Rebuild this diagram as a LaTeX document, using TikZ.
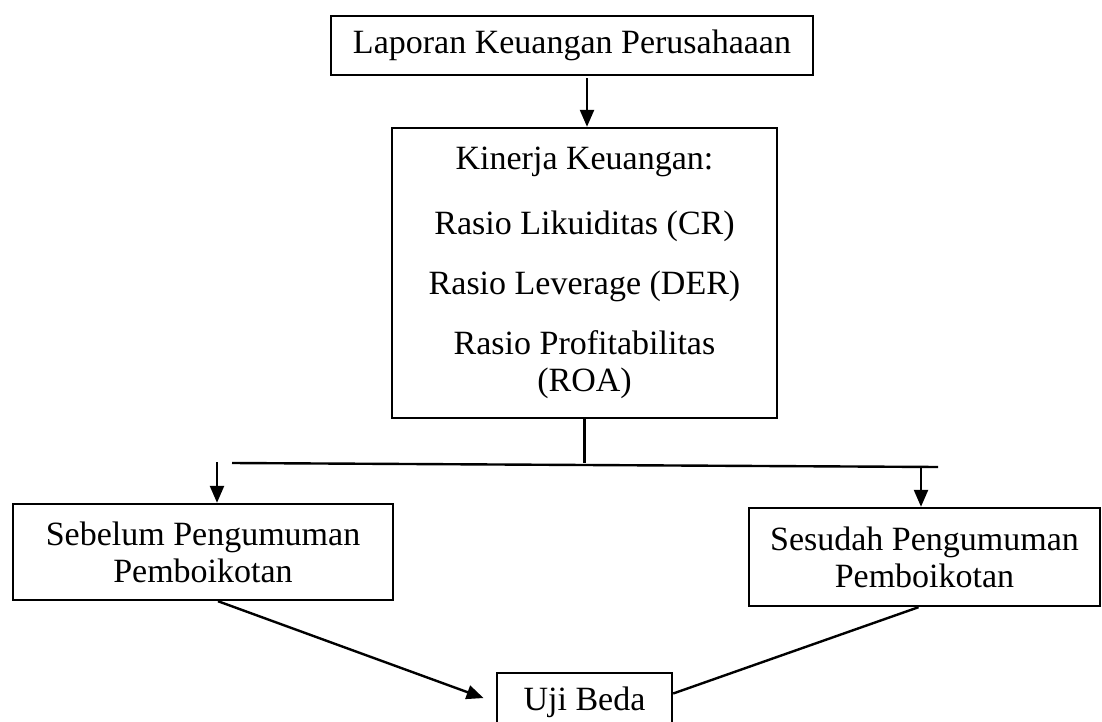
\documentclass[tikz,border=0pt]{standalone}
\usepackage{fontspec}
\setmainfont{Liberation Serif}
\usetikzlibrary{calc,arrows.meta}
\tikzset{
	kotak/.style={draw, line width=2.4pt, align=center, inner sep=0pt, font=\fontsize{34}{37}\selectfont},
	panah/.style={line width=2.4pt, -{Triangle[length=17pt,width=14pt]}},
	garis/.style={line width=2.4pt}
}

\begin{document}
\begin{tikzpicture}[x=1pt,y=-1pt]
			%%%%% START %%%%%
			\def\ybar{463}
			\useasboundingbox (0,0) rectangle (1102,722);
			
			\node[kotak, minimum width=482, minimum height=59] (lap) at (572,45.5) {Laporan Keuangan Perusahaaan};
			
			\node[kotak, minimum width=385, minimum height=290] (kin) at (584.5,273) {Kinerja Keuangan:\\[28pt] Rasio Likuiditas (CR)\\[23pt] Rasio Leverage (DER)\\[23pt] Rasio Profitabilitas\\ (ROA)};
			
			\node[kotak, minimum width=380, minimum height=96] (seb) at (203,552) {Sebelum Pengumuman\\ Pemboikotan};
			\node[kotak, minimum width=351, minimum height=98] (sud) at (924.5,557) {Sesudah Pengumuman\\ Pemboikotan};
			\node[kotak, minimum width=175, minimum height=59] (uji) at (584.5,702.5) {Uji Beda};
			
			\coordinate (bl) at (232,\ybar);
			\coordinate (br) at (938,\ybar+4);
			\coordinate (al) at (217,\ybar-1);
			\coordinate (ar) at (921,\ybar+4);
			
			\draw[panah] (kin.north |- lap.south) ++(2.5,2) -- ($(kin.north)+(2.5,0)$);
			\draw[garis] (kin.south) -- (kin.south |- bl);
			\draw[garis] (bl) -- (br);
			\draw[panah] (al) -- (al |- seb.north);
			\draw[panah] (ar) -- (ar |- sud.north);
			
			\draw[panah, shorten >=13pt] ($(seb.south)+(15,0)$) -- (uji.west);
			\draw[garis] ($(sud.south)+(-6,0)$) -- ($(uji.east)+(0,-9)$);
			%%%%% END %%%%%
\end{tikzpicture}
\end{document}
